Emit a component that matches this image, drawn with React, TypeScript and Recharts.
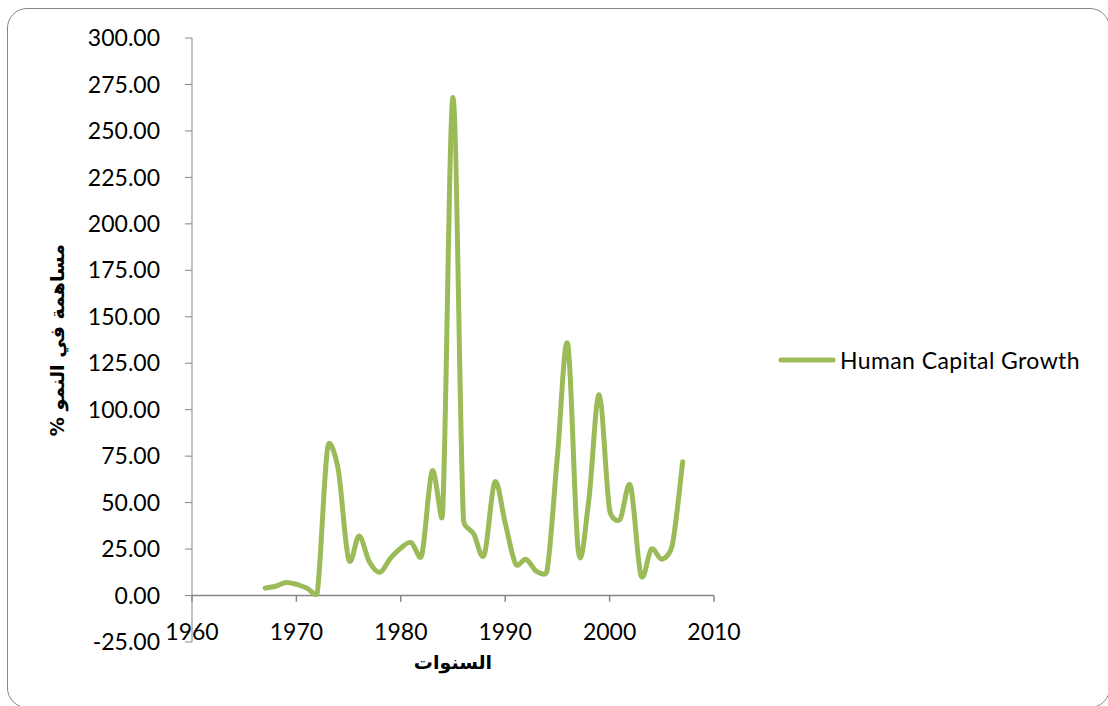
import React from 'react';
import { LineChart, Line, XAxis, YAxis, ReferenceLine, Legend, Label } from 'recharts';

const years = [
  1967, 1968, 1969, 1970, 1971, 1972, 1973, 1974, 1975, 1976, 1977, 1978, 1979, 1980,
  1981, 1982, 1983, 1984, 1985, 1986, 1987, 1988, 1989, 1990, 1991, 1992, 1993, 1994,
  1995, 1996, 1997, 1998, 1999, 2000, 2001, 2002, 2003, 2004, 2005, 2006, 2007,
];
const growth = [
  4, 5, 7, 6, 4, 1.5, 80, 68, 19.5, 32, 18, 12.5, 20, 25.5,
  28.5, 21.5, 67, 44, 268, 41, 33, 22, 61, 39, 17, 19.5, 13, 13,
  75, 135, 24, 51, 108, 46, 41, 59, 11, 25, 19.5, 27, 72,
];
const xTicks = [1960, 1970, 1980, 1990, 2000, 2010];
const yTicks = [-25, 0, 25, 50, 75, 100, 125, 150, 175, 200, 225, 250, 275, 300];
const seriesName = 'Human Capital Growth';
const yTitle = 'مساهمة في النمو %';
const xTitle = 'السنوات';

const data = years.map((y, i) => ({ year: y, value: growth[i] }));

const FONT = 'Lato, "DejaVu Sans", sans-serif';
const AXIS = '#868686';
const GREEN = '#9BBB59';

if (typeof document !== 'undefined') {
  document.documentElement.style.overflow = 'hidden';
  document.body.style.overflow = 'hidden';
}

// Excel-like smoothed line: Bezier with 1/6 tension, control arms capped at half the segment length
const smoothCurve = (context: any) => {
  let pts: [number, number][] = [];
  return {
    areaStart() {},
    areaEnd() {},
    lineStart() {
      pts = [];
    },
    lineEnd() {
      const n = pts.length;
      if (!n) return;
      context.moveTo(pts[0][0], pts[0][1]);
      const d = (a: number[], b: number[]) => Math.hypot(b[0] - a[0], b[1] - a[1]);
      for (let i = 0; i < n - 1; i++) {
        const p1 = pts[i];
        const p2 = pts[i + 1];
        const p0 = pts[i - 1] || p1;
        const p3 = pts[i + 2] || p2;
        const d12 = d(p1, p2);
        const d02 = d(p0, p2);
        const d13 = d(p1, p3);
        const f1 = d02 > 0 ? Math.min(1 / 6, (0.5 * d12) / d02) : 0;
        const f2 = d13 > 0 ? Math.min(1 / 6, (0.5 * d12) / d13) : 0;
        context.bezierCurveTo(
          p1[0] + f1 * (p2[0] - p0[0]),
          p1[1] + f1 * (p2[1] - p0[1]),
          p2[0] - f2 * (p3[0] - p1[0]),
          p2[1] - f2 * (p3[1] - p1[1]),
          p2[0],
          p2[1]
        );
      }
    },
    point(x: number, y: number) {
      pts.push([+x, +y]);
    },
  };
};

const XTick = (props: any) => {
  const { x, y, payload } = props;
  return (
    <text x={x} y={y - 11} textAnchor="middle" dominantBaseline="central" fontFamily={FONT} fontSize={23} fill="#000">
      {payload.value}
    </text>
  );
};

const LegendContent = () => (
  <div style={{ display: 'flex', alignItems: 'center', fontFamily: FONT, fontSize: 23, letterSpacing: 0.4, color: '#000', whiteSpace: 'nowrap' }}>
    <svg width={58} height={10} style={{ display: 'block' }}>
      <line x1={3} y1={5} x2={55} y2={5} stroke={GREEN} strokeWidth={5} strokeLinecap="round" />
    </svg>
    <span style={{ marginLeft: 4 }}>{seriesName}</span>
  </div>
);

export default function App() {
  return (
    <div style={{ position: 'absolute', left: 0, top: 0, width: 1108, height: 706, background: '#fff' }}>
      <div
        style={{
          position: 'absolute',
          left: 7,
          top: 8,
          width: 1103,
          height: 700,
          boxSizing: 'border-box',
          border: `1.5px solid ${AXIS}`,
          borderRadius: 20,
        }}
      />
      <div style={{ position: 'absolute', left: 0, top: 0 }}>
        <LineChart width={1108} height={706} data={data} margin={{ top: 38, right: 394, bottom: 0, left: 0 }}>
          <XAxis
            dataKey="year"
            type="number"
            domain={[1960, 2010]}
            ticks={xTicks}
            axisLine={false}
            tickLine={false}
            tickSize={0}
            tickMargin={0}
            height={64}
            tick={<XTick />}
            interval={0}
          >
            <Label
              content={(p: any) => {
                const vb = p.viewBox;
                return (
                  <text
                    x={vb.x + vb.width / 2}
                    y={vb.y + 20}
                    textAnchor="middle"
                    dominantBaseline="central"
                    direction="rtl"
                    fontFamily='"DejaVu Sans", sans-serif'
                    fontWeight="bold"
                    fontSize={19}
                    fill="#000"
                  >
                    {xTitle}
                  </text>
                );
              }}
            />
          </XAxis>
          <YAxis
            type="number"
            domain={[-25, 300]}
            ticks={yTicks}
            width={192}
            interval={0}
            stroke={AXIS}
            tickSize={7}
            tickMargin={25}
            tick={{ fontFamily: FONT, fontSize: 23, fill: '#000' }}
            tickFormatter={(v: number) => v.toFixed(2)}
          >
            <Label
              content={(p: any) => {
                const vb = p.viewBox;
                const cy = vb.y + vb.height / 2;
                return (
                  <text
                    x={57}
                    y={cy}
                    transform={`rotate(-90, 57, ${cy})`}
                    textAnchor="middle"
                    dominantBaseline="central"
                    direction="rtl"
                    fontFamily='"DejaVu Sans", sans-serif'
                    fontWeight="bold"
                    fontSize={19}
                    fill="#000"
                  >
                    {yTitle}
                  </text>
                );
              }}
            />
          </YAxis>
          <ReferenceLine y={0} stroke={AXIS} strokeWidth={1.5} />
          {xTicks.map((t) => (
            <ReferenceLine
              key={t}
              segment={[
                { x: t, y: 0 },
                { x: t, y: -3.3 },
              ]}
              stroke={AXIS}
              strokeWidth={1.5}
            />
          ))}
          <Legend
            layout="horizontal"
            verticalAlign="middle"
            align="center"
            content={<LegendContent />}
            wrapperStyle={{ position: 'absolute', left: 778, top: 346, width: 330 }}
          />
          <Line
            dataKey="value"
            name={seriesName}
            type={smoothCurve as any}
            stroke={GREEN}
            strokeWidth={5}
            strokeLinecap="round"
            strokeLinejoin="round"
            dot={false}
            activeDot={false}
            isAnimationActive={false}
          />
        </LineChart>
      </div>
    </div>
  );
}
